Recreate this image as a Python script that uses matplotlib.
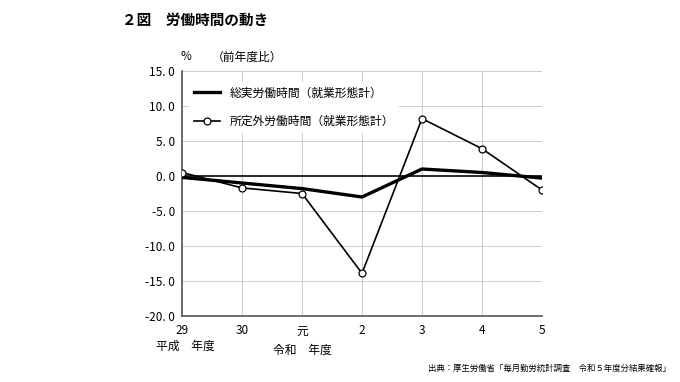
import matplotlib.pyplot as plt
import numpy as np

plt.rcParams['font.family'] = ['Noto Sans CJK JP', 'DejaVu Sans']

# data
years = ['29', '30', '元', '2', '3', '4', '5']
total_hours = [-0.2, -1.0, -1.8, -3.0, 1.0, 0.5, -0.3]
overtime_hours = [0.5, -1.7, -2.5, -13.9, 8.2, 3.9, -2.0]
yticks = [15, 10, 5, 0, -5, -10, -15, -20]

fig = plt.figure(figsize=(6.8, 3.82), dpi=100)
ax = fig.add_axes([182/680, 1-316/382, 360/680, 245/382])

x = np.arange(len(years))
ax.plot(x, total_hours, color='black', lw=2.4, label='総実労働時間（就業形態計）', zorder=3)
ax.plot(x, overtime_hours, color='black', lw=1.2, marker='o', ms=5,
        mfc='white', mec='black', mew=0.9,
        label='所定外労働時間（就業形態計）', zorder=4)

ax.axhline(0, color='#2a2a2a', lw=1.4, zorder=2)
ax.set_xlim(0, 6)
ax.set_ylim(-20, 15)
ax.set_yticks(yticks)
ax.set_yticklabels([('%.1f' % v).replace('.', '. ') for v in yticks], fontsize=8.5)
ax.set_xticks(x)
ax.set_xticklabels(years, fontsize=8.5)
ax.tick_params(axis='y', length=0, pad=5)
ax.tick_params(axis='x', length=0, pad=6)
ax.grid(True, color='#cccccc', lw=0.7)
ax.set_axisbelow(True)
for s in ['top', 'right']:
    ax.spines[s].set_visible(False)
ax.spines['left'].set_color('#555555')
ax.spines['bottom'].set_color('#555555')
ax.spines['left'].set_linewidth(1.2)
ax.spines['bottom'].set_linewidth(1.2)

leg = ax.legend(loc='upper left', bbox_to_anchor=(0.01, 0.97), frameon=True,
                fontsize=8.5, handlelength=2.2, labelspacing=1.3,
                borderaxespad=0.3)
leg.get_frame().set_edgecolor('none')
leg.get_frame().set_facecolor('white')
leg.get_frame().set_alpha(1)

fig.text(122/680, 1-20/382, '２図　労働時間の動き', fontsize=10.5, fontweight='bold',
         va='center', ha='left')
fig.text(186/680, 1-57/382, '%', fontsize=8.5, va='center', ha='center')
fig.text(212/680, 1-57/382, '（前年度比）', fontsize=8.5, va='center', ha='left')
fig.text(185/680, 1-346/382, '平成　年度', fontsize=8.5, va='center', ha='center')
fig.text(302/680, 1-350/382, '令和　年度', fontsize=8.5, va='center', ha='center')
fig.text(428/680, 1-368/382, '出典：厚生労働省「毎月勤労統計調査　令和５年度分結果確報」',
         fontsize=6, va='center', ha='left')

fig.savefig('out.png', dpi=100)
